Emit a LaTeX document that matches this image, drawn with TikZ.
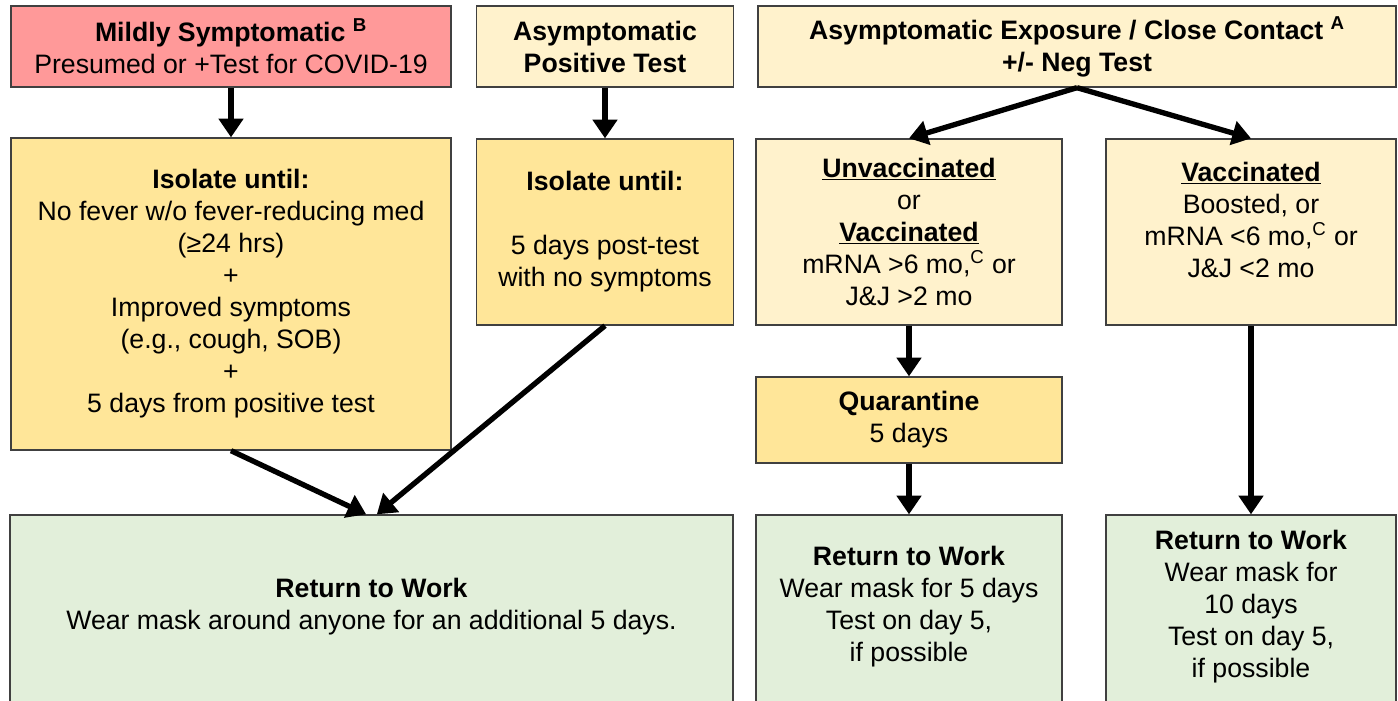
\documentclass[tikz,border=0pt]{standalone}
\usepackage{fontspec}
\setmainfont{Liberation Sans}
\usetikzlibrary{arrows.meta}
\definecolor{pinkfill}{HTML}{FF9999}
\definecolor{paleyel}{HTML}{FFF2CC}
\definecolor{deepyel}{HTML}{FFE699}
\definecolor{palegreen}{HTML}{E2EFDA}
\tikzset{
  box/.style={draw=black!75, line width=1pt, align=center, inner sep=0pt,
    font=\fontsize{20}{24}\selectfont},
  arr/.style={line width=4pt, -{Triangle[width=18pt,length=14pt]}}
}
\begin{document}
\begin{tikzpicture}[x=0.75pt,y=-0.75pt]
        \useasboundingbox (0,0) rectangle (1398,700);
        % Top row
        \node[box, fill=pinkfill, minimum width=330pt, minimum height=60.75pt] (mild) at (231,46.5)
          {\textbf{Mildly Symptomatic \textsuperscript{B}}\\Presumed or +Test for COVID-19};
        \node[box, fill=paleyel, minimum width=192.75pt, minimum height=60.75pt] (asym) at (605,46.5)
          {\textbf{Asymptomatic}\\\textbf{Positive Test}};
        \node[box, fill=paleyel, minimum width=478.5pt, minimum height=60.75pt] (expo) at (1077,46.5)
          {\textbf{Asymptomatic Exposure / Close Contact \textsuperscript{A}}\\\textbf{+/- Neg Test}};
        % Isolate / vaccination row
        \node[box, fill=deepyel, minimum width=330pt, minimum height=234pt] (iso1) at (231,294)
          {\textbf{Isolate until:}\\No fever w/o fever-reducing med\\(≥24 hrs)\\+\\Improved symptoms\\(e.g., cough, SOB)\\+\\5 days from positive test};
        \node[box, fill=deepyel, minimum width=192.75pt, minimum height=139.5pt] (iso2) at (605,232)
          {\textbf{Isolate until:}\\[24pt]5 days post-test\\with no symptoms};
        \node[box, fill=paleyel, minimum width=229.5pt, minimum height=139.5pt] (unvac) at (909,232)
          {\textbf{\underline{Unvaccinated}}\\or\\\textbf{\underline{Vaccinated}}\\mRNA >6 mo,\textsuperscript{C} or\\J\&J >2 mo};
        \node[box, fill=paleyel, minimum width=217.5pt, minimum height=139.5pt] (vac) at (1251,232) {};
        \node[box, draw=none] (vactext) at ([yshift=9pt]vac.center)
          {\textbf{\underline{Vaccinated}}\\Boosted, or\\mRNA <6 mo,\textsuperscript{C} or\\J\&J <2 mo};
        \node[box, fill=deepyel, minimum width=229.5pt, minimum height=64.5pt] (quar) at (909,420)
          {\textbf{Quarantine}\\5 days};
        % Return to work row (runs past the bottom edge)
        \node[box, fill=palegreen, minimum width=542.25pt, minimum height=150pt] (rtw1) at (371.5,615) {};
        \node[box, fill=palegreen, minimum width=229.5pt, minimum height=150pt] (rtw2) at (909,615) {};
        \node[box, fill=palegreen, minimum width=217.5pt, minimum height=150pt] (rtw3) at (1251,615) {};
        \node[box, draw=none] (rtw1text) at (371.5,607)
          {\textbf{Return to Work}\\Wear mask around anyone for an additional 5 days.};
        \node[box, draw=none] (rtw2text) at (909,607)
          {\textbf{Return to Work}\\Wear mask for 5 days\\Test on day 5,\\if possible};
        \node[box, draw=none] (rtw3text) at (1251,607)
          {\textbf{Return to Work}\\Wear mask for\\10 days\\Test on day 5,\\if possible};
        % Arrows
        \draw[arr] (mild) -- (iso1);
        \draw[arr] (asym) -- (iso2);
        \draw[arr] (expo.south) -- (unvac.north);
        \draw[arr] (expo.south) -- (vac.north);
        \draw[arr] (unvac) -- (quar);
        \draw[arr] (quar) -- (rtw2);
        \draw[arr] (vac) -- (rtw3);
        \draw[arr] (iso1.south) -- ([xshift=-4pt]rtw1.north);
        \draw[arr] (iso2.south) -- ([xshift=4pt]rtw1.north);
    \end{tikzpicture}
\end{document}
